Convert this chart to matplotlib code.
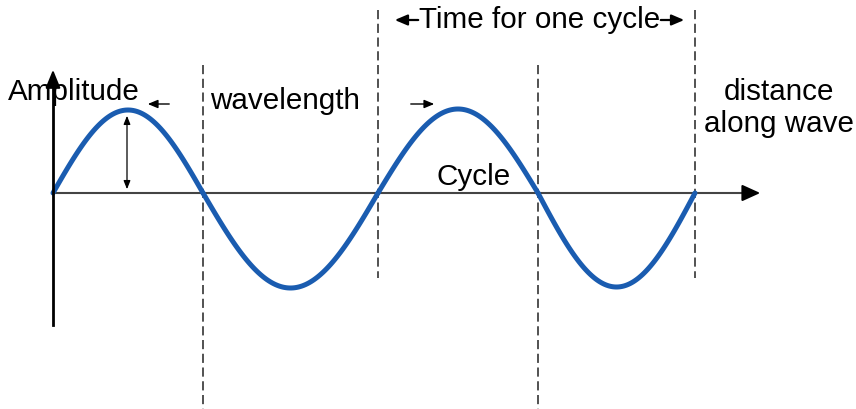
import numpy as np
import matplotlib.pyplot as plt

plt.rcParams['font.family'] = ['Liberation Sans', 'DejaVu Sans']

# wave geometry (pixel units of the diagram)
zero_x = [53, 203, 378, 538, 695]      # where the wave crosses the axis
crest_h = [83, 95, 84, 94]             # height of each half-wave (up, down, up, down)
axis_y = 193

# dashed marker lines: x, top, bottom
dash_x = [203, 378, 538, 695]
dash_top = [65, 10, 65, 10]
dash_bot = [409, 278, 409, 278]

blue = '#1a5cb0'

fig = plt.figure(figsize=(8.56, 4.09), dpi=100)
ax = fig.add_axes([0, 0, 1, 1])
ax.set_xlim(0, 856)
ax.set_ylim(409, 0)
ax.axis('off')

# dashed lines
for x, t, b in zip(dash_x, dash_top, dash_bot):
    ax.plot([x, x], [t, b], color='#222222', lw=1.1, ls=(0, (6, 3)), zorder=1)

# axes with arrows
ax.plot([53, 750], [axis_y, axis_y], color='#444444', lw=1.5, zorder=2)
ax.annotate('', xy=(763, axis_y), xytext=(745, axis_y),
            arrowprops=dict(arrowstyle='-|>,head_length=1.1,head_width=0.5', color='black', lw=1.5))
ax.plot([53, 53], [325, 80], color='black', lw=2, zorder=5)
ax.annotate('', xy=(53, 67), xytext=(53, 85),
            arrowprops=dict(arrowstyle='-|>,head_length=1.1,head_width=0.45', color='black', lw=1.5))

# the wave, half period by half period
sign = -1
for i in range(len(zero_x) - 1):
    x0, x1 = zero_x[i], zero_x[i + 1]
    xx = np.linspace(x0, x1, 100)
    yy = axis_y + sign * crest_h[i] * np.sin(np.pi * (xx - x0) / (x1 - x0))
    ax.plot(xx, yy, color=blue, lw=3.6, solid_capstyle='round', zorder=3)
    sign = -sign

# amplitude double arrow
ax.annotate('', xy=(127, 113), xytext=(127, 192),
            arrowprops=dict(arrowstyle='<|-|>,head_length=0.5,head_width=0.2', color='black', lw=0.9))

# small arrows by wavelength
ax.annotate('', xy=(145, 104), xytext=(172, 104),
            arrowprops=dict(arrowstyle='-|>,head_length=0.6,head_width=0.25', color='black', lw=1))
ax.annotate('', xy=(437, 104), xytext=(408, 104),
            arrowprops=dict(arrowstyle='-|>,head_length=0.6,head_width=0.25', color='black', lw=1))

# time for one cycle arrows
ax.annotate('', xy=(392, 20), xytext=(421, 20),
            arrowprops=dict(arrowstyle='-|>,head_length=0.75,head_width=0.32', color='black', lw=1.6))
ax.annotate('', xy=(687, 20), xytext=(658, 20),
            arrowprops=dict(arrowstyle='-|>,head_length=0.75,head_width=0.32', color='black', lw=1.6))

fs = 21.3
ax.text(8, 92, 'Amplitude', fontsize=fs, ha='left', va='center', zorder=4)
ax.text(210, 101, 'wavelength', fontsize=fs, ha='left', va='center')
ax.text(540, 20, 'Time for one cycle', fontsize=fs, ha='center', va='center')
ax.text(474, 177, 'Cycle', fontsize=fs, ha='center', va='center')
ax.text(779, 108, 'distance\nalong wave', fontsize=fs, ha='center', va='center',
        linespacing=1.15)

fig.savefig('out.png', dpi=100)
